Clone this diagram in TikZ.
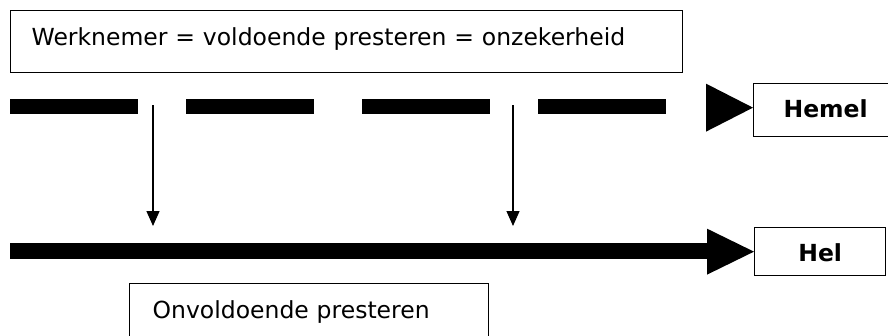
\documentclass[tikz,border=0pt]{standalone}
\usepackage{fontspec}
\setmainfont{DejaVu Sans}
\usetikzlibrary{arrows.meta}
\begin{document}
\begin{tikzpicture}[x=1pt,y=-1pt,
  box/.style={draw, line width=1.3pt, anchor=north west, inner ysep=0pt, font=\fontsize{23.5}{28}\selectfont},
  tlabel/.style={box, align=left},
  bl/.style={box, align=center, inner xsep=0pt, font=\fontsize{23.5}{28}\selectfont\bfseries},
  thin arrow/.style={line width=1.3pt, -{Triangle[length=15pt,width=13pt]}},
  head/.style={fill=black}
]
\useasboundingbox (0,0) rectangle (888,335);
\node[tlabel, inner xsep=21pt, text width=630pt, text height=35pt, text depth=27pt] (top) at (10,10) {Werknemer = voldoende presteren = onzekerheid};
\node[bl, minimum width=144pt, text height=34pt, text depth=19pt] (hemel) at (753,83) {Hemel};
\node[bl, minimum width=131pt, text height=34pt, text depth=14pt] (hel) at (754,227) {Hel};
\node[tlabel, inner xsep=23pt, text width=313pt, text height=35pt, text depth=30pt] (bottom) at (129,283) {Onvoldoende presteren};
% dashed line
\coordinate (ds) at (10,106.5);
\coordinate (de) at (666,106.5);
\draw[line width=15pt, dash pattern=on 128pt off 48pt] (ds) -- (de);
\fill[head] (hemel.west) ++(0,-2.5) coordinate (ht) -- ++(-47,-24) -- ++(0,48) -- cycle;
% solid line
\coordinate (ss) at (10,251);
\coordinate (se) at (707,251);
\draw[line width=16pt] (ss) -- (se);
\fill[head] (hel.west) coordinate (lt) -- ++(-47,-23) -- ++(0,46) -- cycle;
% vertical arrows
\coordinate (a1) at (153,105);
\coordinate (b1) at (153,226);
\coordinate (a2) at (513,105);
\coordinate (b2) at (513,226);
\draw[thin arrow] (a1) -- (b1);
\draw[thin arrow] (a2) -- (b2);
\end{tikzpicture}
\end{document}
